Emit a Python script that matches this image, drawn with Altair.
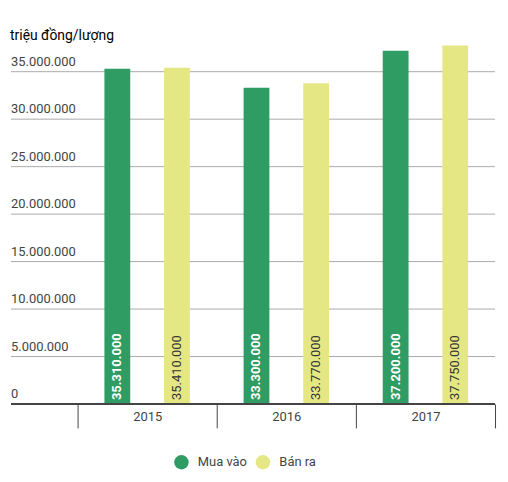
import pandas as pd
import altair as alt

# Values
years = ["2015", "2016", "2017"]
series = ["Mua vào", "Bán ra"]
mua_vao = [35310000, 33300000, 37200000]
ban_ra = [35410000, 33770000, 37750000]
y_ticks = [0, 5000000, 10000000, 15000000, 20000000, 25000000, 30000000, 35000000]

colors = ["#2e9c63", "#e5e784"]


def vn_number(v):
    return f"{v:,}".replace(",", ".")


rows = []
for i, y in enumerate(years):
    rows.append({"year": y, "series": series[0], "value": mua_vao[i], "zero": 0})
    rows.append({"year": y, "series": series[1], "value": ban_ra[i], "zero": 0})
df = pd.DataFrame(rows)
df["label"] = df["value"].apply(vn_number)

grid_df = pd.DataFrame({"tick": y_ticks})
grid_df["tick_label"] = grid_df["tick"].apply(vn_number)

LEFT_GAP = 67
PLOT_W = 420

x_enc = alt.X(
    "year:N",
    title=None,
    scale=alt.Scale(paddingInner=0, paddingOuter=0),
    axis=alt.Axis(
        domain=False,
        tickBand="extent",
        tickSize=24,
        tickColor="#444444",
        tickWidth=1,
        labelAngle=0,
        labelPadding=-17,
        labelFont="Roboto",
        labelFontSize=13,
        labelColor="#444444",
        grid=False,
    ),
)
y_scale = alt.Scale(domain=[0, 38000000], nice=False)
xoff = alt.XOffset(
    "series:N",
    sort=series,
    scale=alt.Scale(paddingInner=0.567, paddingOuter=0.45),
)

grid = alt.Chart(grid_df).mark_rule(color="#aaaaaa", strokeWidth=1).encode(
    y=alt.Y("tick:Q", scale=y_scale, axis=None),
    x=alt.value(-LEFT_GAP),
    x2=alt.value(PLOT_W),
)

tick_text = alt.Chart(grid_df).mark_text(
    align="left", baseline="bottom", dy=-3, font="Roboto", fontSize=13, color="#444444"
).encode(
    y=alt.Y("tick:Q", scale=y_scale, axis=None),
    x=alt.value(-LEFT_GAP),
    text="tick_label:N",
)

bars = alt.Chart(df).mark_bar().encode(
    x=x_enc,
    xOffset=xoff,
    y=alt.Y("value:Q", scale=y_scale, axis=None),
    color=alt.Color(
        "series:N",
        sort=series,
        scale=alt.Scale(domain=series, range=colors),
        legend=alt.Legend(
            title=None,
            orient="none",
            legendX=97,
            legendY=414,
            direction="horizontal",
            symbolType="circle",
            symbolSize=210,
            symbolStrokeWidth=0,
            labelFont="Roboto",
            labelFontSize=13,
            labelColor="#444444",
            labelOffset=9,
            columnPadding=8,
        ),
    ),
)


def bar_labels(name, color, weight):
    return alt.Chart(df).transform_filter(
        alt.datum.series == name
    ).mark_text(
        angle=270, align="left", baseline="middle", dx=4,
        font="Roboto", fontSize=13, fontWeight=weight, color=color,
    ).encode(
        x=alt.X("year:N", scale=alt.Scale(paddingInner=0, paddingOuter=0)),
        xOffset=xoff,
        y=alt.Y("zero:Q", scale=y_scale),
        text="label:N",
    )


labels_buy = bar_labels(series[0], "#ffffff", "bold")
labels_sell = bar_labels(series[1], "#333333", "normal")

baseline = alt.Chart(grid_df).transform_filter("datum.tick == 0").mark_rule(
    color="#444444", strokeWidth=2
).encode(
    y=alt.Y("tick:Q", scale=y_scale),
    x=alt.value(-LEFT_GAP),
    x2=alt.value(PLOT_W),
)

chart = alt.layer(grid, tick_text, bars, labels_buy, labels_sell, baseline).properties(
    width=PLOT_W,
    height=363,
    padding={"left": 2, "top": 20, "right": 4, "bottom": 4},
    title=alt.TitleParams(
        "triệu đồng/lượng",
        anchor="start",
        font="Roboto",
        fontSize=14,
        fontWeight="normal",
        color="#000000",
        offset=0,
    ),
).configure_view(strokeWidth=0)

chart.save("out.html", embed_options={"renderer": "svg", "actions": False})
